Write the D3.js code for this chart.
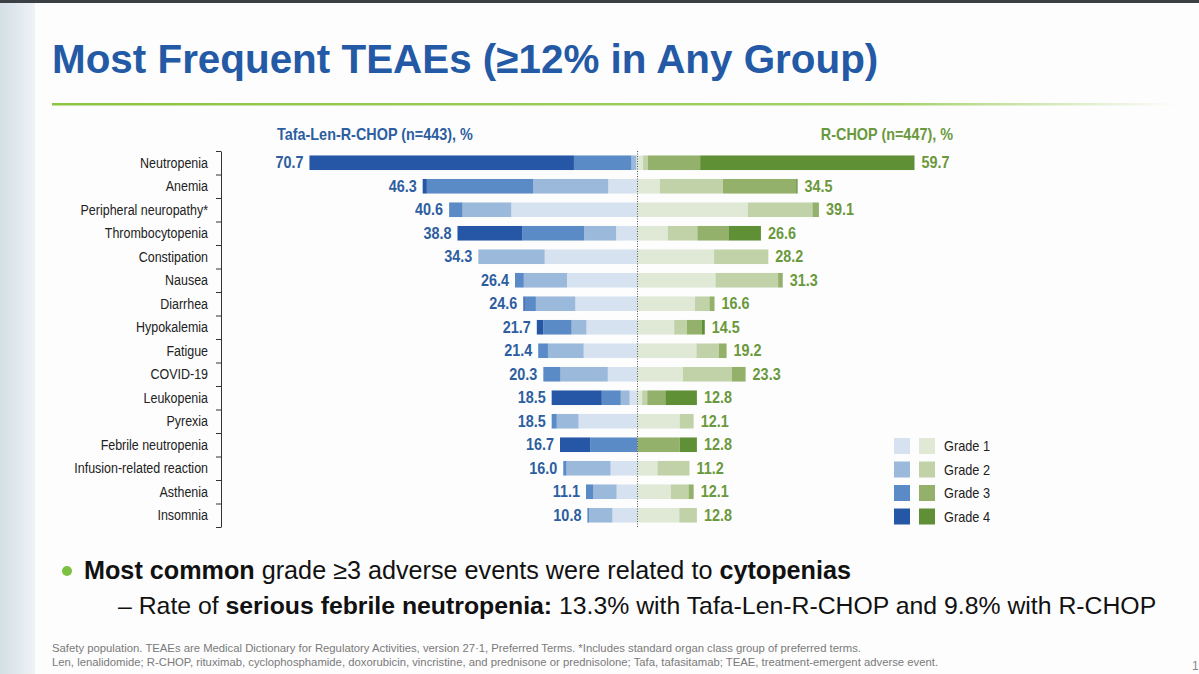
<!DOCTYPE html>
<html lang="en">
<head>
<meta charset="utf-8">
<title>Most Frequent TEAEs</title>
<script src="https://cdn.jsdelivr.net/npm/d3@7"></script>
<style>
  body { margin: 0; background: #fdfdfd; }
  svg { display: block; }
</style>
</head>
<body>
<script>
// categories, top to bottom
var categories = ["Neutropenia", "Anemia", "Peripheral neuropathy*", "Thrombocytopenia",
  "Constipation", "Nausea", "Diarrhea", "Hypokalemia", "Fatigue", "COVID-19",
  "Leukopenia", "Pyrexia", "Febrile neutropenia", "Infusion-related reaction",
  "Asthenia", "Insomnia"];

// Tafa-Len-R-CHOP, % by grade
var tafaG1 = [0.3, 6.3, 27.2, 4.6, 20.0, 15.2, 13.4, 11.0, 11.6, 6.4, 1.7, 12.7, 0, 5.8, 4.5, 5.4];
var tafaG2 = [1.0, 16.2, 10.5, 6.9, 14.3, 9.3, 8.5, 3.2, 7.7, 10.2, 1.9, 4.7, 0, 9.5, 5.0, 5.0];
var tafaG3 = [12.4, 22.9, 2.9, 13.3, 0, 1.9, 2.4, 6.1, 2.1, 3.7, 4.1, 1.1, 10.2, 0.7, 1.6, 0.4];
var tafaG4 = [57.0, 0.9, 0, 14.0, 0, 0, 0.3, 1.4, 0, 0, 10.8, 0, 6.5, 0, 0, 0];
var tafaTotal = ["70.7", "46.3", "40.6", "38.8", "34.3", "26.4", "24.6", "21.7", "21.4", "20.3",
  "18.5", "18.5", "16.7", "16.0", "11.1", "10.8"];

// R-CHOP, % by grade
var rchopG1 = [1.2, 4.8, 23.8, 6.5, 16.5, 16.8, 12.4, 7.9, 12.7, 9.8, 1.0, 9.1, 0, 4.3, 7.2, 9.0];
var rchopG2 = [1.0, 13.6, 13.9, 6.4, 11.7, 13.5, 3.1, 2.7, 4.8, 10.5, 1.1, 3.0, 0, 6.9, 3.8, 3.8];
var rchopG3 = [11.3, 15.8, 1.4, 6.7, 0, 1.0, 1.1, 3.2, 1.7, 3.0, 3.9, 0, 9.1, 0, 1.1, 0];
var rchopG4 = [46.2, 0.3, 0, 7.0, 0, 0, 0, 0.7, 0, 0, 6.8, 0, 3.7, 0, 0, 0];
var rchopTotal = ["59.7", "34.5", "39.1", "26.6", "28.2", "31.3", "16.6", "14.5", "19.2", "23.3",
  "12.8", "12.1", "12.8", "11.2", "12.1", "12.8"];

var grades = ["Grade 1", "Grade 2", "Grade 3", "Grade 4"];
var blues = ["#d6e2ef", "#9bb9da", "#5b8bc6", "#2656a6"];
var greens = ["#e0e8d6", "#c1d2a9", "#94b16c", "#5f9036"];

var W = 1199, H = 674;
var sans = "'Liberation Sans', Arial, Helvetica, sans-serif";

var svg = d3.select("body").append("svg")
  .attr("width", W)
  .attr("height", H);

// slide background
var defs = svg.append("defs");
var sg = defs.append("linearGradient").attr("id", "strip");
sg.append("stop").attr("offset", "0%").attr("stop-color", "#d3dfe6");
sg.append("stop").attr("offset", "100%").attr("stop-color", "#eef3f5");
var lg = defs.append("linearGradient").attr("id", "rule");
lg.append("stop").attr("offset", "0%").attr("stop-color", "#8cc540");
lg.append("stop").attr("offset", "75%").attr("stop-color", "#a4d16a");
lg.append("stop").attr("offset", "100%").attr("stop-color", "#fdfdfd");

svg.append("rect").attr("width", W).attr("height", H).attr("fill", "#fdfdfd");
svg.append("rect").attr("x", 0).attr("y", 0).attr("width", 35).attr("height", H).attr("fill", "url(#strip)");
svg.append("rect").attr("x", 0).attr("y", 0).attr("width", W).attr("height", 3).attr("fill", "#3b4045");

// title
svg.append("text")
  .attr("x", 52).attr("y", 73)
  .attr("font-family", sans).attr("font-weight", "bold").attr("font-size", 40.4)
  .attr("fill", "#2459a6")
  .text("Most Frequent TEAEs (\u226512% in Any Group)");
svg.append("rect").attr("x", 52).attr("y", 103).attr("width", 1125).attr("height", 2.5).attr("fill", "url(#rule)");

// data table for the stacks
var tafaRows = categories.map(function(c, i) {
  return { cat: c, g1: tafaG1[i], g2: tafaG2[i], g3: tafaG3[i], g4: tafaG4[i], total: tafaTotal[i] };
});
var rchopRows = categories.map(function(c, i) {
  return { cat: c, g1: rchopG1[i], g2: rchopG2[i], g3: rchopG3[i], g4: rchopG4[i], total: rchopTotal[i] };
});
var keys = ["g1", "g2", "g3", "g4"];
var stack = d3.stack().keys(keys);
var tafaStack = stack(tafaRows);
var rchopStack = stack(rchopRows);

var cx = 637.5;
var x = d3.scaleLinear().domain([0, 100]).range([0, 464]);
var y = d3.scaleBand().domain(categories).range([151, 527]).paddingInner(0.38).paddingOuter(0.19);

// left side (Tafa-Len-R-CHOP) grows to the left
svg.append("g").selectAll("g")
  .data(tafaStack)
  .join("g")
  .attr("fill", function(d, i) { return blues[i]; })
  .selectAll("rect")
  .data(function(d) { return d; })
  .join("rect")
  .attr("x", function(d) { return cx - x(d[1]); })
  .attr("y", function(d) { return y(d.data.cat); })
  .attr("width", function(d) { return x(d[1]) - x(d[0]); })
  .attr("height", y.bandwidth());

// right side (R-CHOP)
svg.append("g").selectAll("g")
  .data(rchopStack)
  .join("g")
  .attr("fill", function(d, i) { return greens[i]; })
  .selectAll("rect")
  .data(function(d) { return d; })
  .join("rect")
  .attr("x", function(d) { return cx + x(d[0]); })
  .attr("y", function(d) { return y(d.data.cat); })
  .attr("width", function(d) { return x(d[1]) - x(d[0]); })
  .attr("height", y.bandwidth());

// value labels (slightly condensed like the slide font)
svg.append("g").selectAll("text")
  .data(tafaRows)
  .join("text")
  .attr("transform", function(d) {
    return "translate(" + (cx - x(d.g1 + d.g2 + d.g3 + d.g4) - 6) + "," + (y(d.cat) + y.bandwidth() / 2 + 5.5) + ") scale(0.9,1)";
  })
  .attr("text-anchor", "end")
  .attr("font-family", sans).attr("font-weight", "bold").attr("font-size", 16)
  .attr("fill", "#2d5e9f")
  .text(function(d) { return d.total; });

svg.append("g").selectAll("text")
  .data(rchopRows)
  .join("text")
  .attr("transform", function(d) {
    return "translate(" + (cx + x(d.g1 + d.g2 + d.g3 + d.g4) + 7) + "," + (y(d.cat) + y.bandwidth() / 2 + 5.5) + ") scale(0.9,1)";
  })
  .attr("font-family", sans).attr("font-weight", "bold").attr("font-size", 16)
  .attr("fill", "#6a983c")
  .text(function(d) { return d.total; });

// centre dotted line
svg.append("line")
  .attr("x1", cx).attr("x2", cx).attr("y1", 151).attr("y2", 527)
  .attr("stroke", "#555").attr("stroke-width", 1).attr("stroke-dasharray", "1,1.5");

// category bracket axis: ticks on band boundaries
var yEdge = d3.scaleLinear().domain([0, categories.length]).range([151, 527]);
var axis = svg.append("g")
  .attr("transform", "translate(221,0)")
  .call(d3.axisLeft(yEdge).tickValues(d3.range(categories.length + 1)).tickSize(5).tickSizeOuter(0).tickFormat(""));
axis.select(".domain").attr("stroke", "#333");
axis.selectAll(".tick line").attr("stroke", "#333");

svg.append("g").selectAll("text")
  .data(categories)
  .join("text")
  .attr("transform", function(d) { return "translate(208," + (y(d) + y.bandwidth() / 2 + 5) + ") scale(0.89,1)"; })
  .attr("text-anchor", "end")
  .attr("font-family", sans).attr("font-size", 14)
  .attr("fill", "#222")
  .text(function(d) { return d; });

// group headers
svg.append("text")
  .attr("transform", "translate(277,140) scale(0.9,1)")
  .attr("font-family", sans).attr("font-weight", "bold").attr("font-size", 16)
  .attr("fill", "#2d5e9f")
  .text("Tafa-Len-R-CHOP (n=443), %");
svg.append("text")
  .attr("transform", "translate(953,140) scale(0.9,1)")
  .attr("text-anchor", "end")
  .attr("font-family", sans).attr("font-weight", "bold").attr("font-size", 16)
  .attr("fill", "#6a983c")
  .text("R-CHOP (n=447), %");

// legend
var leg = svg.append("g").selectAll("g")
  .data(grades)
  .join("g")
  .attr("transform", function(d, i) { return "translate(894," + (438 + i * 23.5) + ")"; });
leg.append("rect").attr("width", 16).attr("height", 16).attr("fill", function(d, i) { return blues[i]; });
leg.append("rect").attr("x", 25).attr("width", 16).attr("height", 16).attr("fill", function(d, i) { return greens[i]; });
leg.append("text")
  .attr("transform", "translate(50,13) scale(0.91,1)")
  .attr("font-family", sans).attr("font-size", 14)
  .attr("fill", "#222")
  .text(function(d) { return d; });

// bullets
svg.append("circle").attr("cx", 67).attr("cy", 571).attr("r", 5).attr("fill", "#7cc142");
var b1 = svg.append("text")
  .attr("x", 84).attr("y", 579)
  .attr("font-family", sans).attr("font-size", 25.2).attr("fill", "#111");
b1.append("tspan").attr("font-weight", "bold").text("Most common");
b1.append("tspan").text(" grade \u22653 adverse events were related to ");
b1.append("tspan").attr("font-weight", "bold").text("cytopenias");

var b2 = svg.append("text")
  .attr("x", 118).attr("y", 614)
  .attr("font-family", sans).attr("font-size", 24.8).attr("fill", "#111");
b2.append("tspan").text("\u2013 Rate of ");
b2.append("tspan").attr("font-weight", "bold").text("serious febrile neutropenia:");
b2.append("tspan").text(" 13.3% with Tafa-Len-R-CHOP and 9.8% with R-CHOP");

// footnotes
var foot = [
  "Safety population. TEAEs are Medical Dictionary for Regulatory Activities, version 27\u00b71, Preferred Terms. *Includes standard organ class group of preferred terms.",
  "Len, lenalidomide; R-CHOP, rituximab, cyclophosphamide, doxorubicin, vincristine, and prednisone or prednisolone; Tafa, tafasitamab; TEAE, treatment-emergent adverse event."
];
svg.append("g").selectAll("text")
  .data(foot)
  .join("text")
  .attr("x", 52)
  .attr("y", function(d, i) { return 652 + i * 14; })
  .attr("font-family", sans).attr("font-size", 11.3)
  .attr("fill", "#7a7a7a")
  .text(function(d) { return d; });

svg.append("text")
  .attr("x", 1192).attr("y", 670)
  .attr("font-family", sans).attr("font-size", 12)
  .attr("fill", "#888")
  .text("1");
</script>
</body>
</html>
